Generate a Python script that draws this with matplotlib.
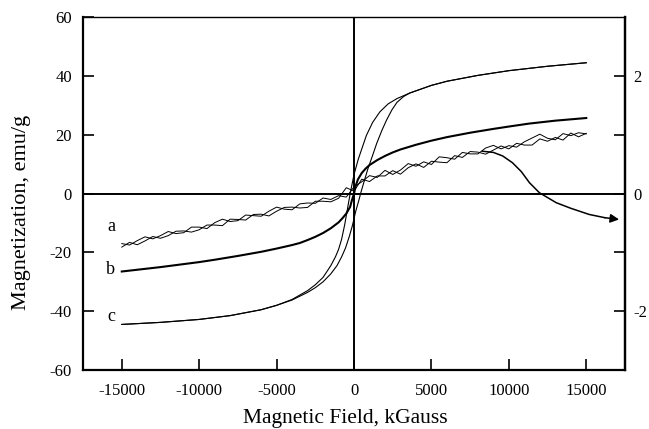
import numpy as np
import matplotlib
matplotlib.use('Agg')
import matplotlib.pyplot as plt

plt.rcParams['font.family'] = ['Liberation Serif', 'DejaVu Serif']

# ---- data (field in "kGauss" as labelled, magnetization in emu/g) ----
H_a = [-15000, -14500, -14000, -13500, -13000, -12500, -12000, -11500, -11000, -10500,
       -10000, -9500, -9000, -8500, -8000, -7500, -7000, -6500, -6000, -5500,
       -5000, -4500, -4000, -3500, -3000, -2500, -2000, -1500, -1000, -500,
       0, 500, 1000, 1500, 2000, 2500, 3000, 3500, 4000, 4500,
       5000, 5500, 6000, 6500, 7000, 7500, 8000, 8500, 9000, 9500,
       10000, 10500, 11000, 11500, 12000, 12500, 13000, 13500, 14000, 14500, 15000]
M_a1 = [-17.0, -17.5, -16.0, -14.7, -15.4, -14.3, -12.9, -13.6, -13.3, -11.4,
        -11.4, -11.9, -9.9, -8.7, -9.5, -9.2, -7.3, -7.5, -7.7, -6.0,
        -4.6, -5.3, -5.5, -3.5, -3.2, -3.3, -1.5, -2.0, -0.7, -1.2,
        2.3, 4.0, 6.1, 5.5, 7.9, 6.5, 8.0, 10.2, 9.3, 10.8,
        9.9, 12.5, 12.2, 11.7, 14.0, 13.5, 13.5, 15.5, 16.4, 15.2,
        16.3, 15.8, 17.6, 18.9, 20.2, 18.8, 18.3, 20.4, 19.7, 20.7, 20.3]
M_a2 = [-18.2, -16.6, -17.4, -16.1, -14.6, -15.2, -14.3, -12.8, -12.7, -13.1,
        -12.3, -10.7, -10.7, -10.9, -8.7, -8.8, -9.0, -7.1, -7.0, -7.6,
        -6.0, -4.7, -4.6, -4.9, -4.7, -2.6, -2.6, -2.8, -1.6, 2.0,
        0.8, 4.9, 4.1, 6.0, 6.0, 7.8, 6.6, 8.8, 10.1, 8.9,
        11.0, 10.7, 10.5, 12.9, 12.3, 14.3, 14.1, 13.4, 14.8, 16.2,
        15.2, 17.1, 16.5, 16.5, 18.6, 17.8, 19.1, 18.2, 20.6, 19.3, 20.5]

H_b = [-15000, -12500, -10000, -9000, -7500, -6000, -5000, -4000, -3500, -3000,
       -2500, -2000, -1500, -1000, -750, -500, -250, -150, 0, 100,
       250, 500, 750, 1000, 1500, 2000, 2500, 3000, 4000, 5000,
       6000, 7500, 9000, 10000, 11300, 13000, 15000]
M_b = [-26.5, -25.0, -23.3, -22.5, -21.2, -19.8, -18.7, -17.5, -16.8, -15.8,
       -14.7, -13.4, -11.8, -9.8, -8.4, -6.8, -4.5, -2.5, 0.0, 2.5,
       4.8, 7.0, 8.5, 9.7, 11.4, 12.8, 14.0, 15.0, 16.6, 18.0,
       19.2, 20.7, 22.0, 22.8, 23.8, 24.8, 25.7]

H_c_up = [-15000, -12500, -10000, -8000, -6000, -5000, -4000, -3000, -2500, -2000,
          -1500, -1200, -1000, -800, -600, -400, -250, 0, 270, 500,
          800, 1200, 1670, 2200, 2770, 3600, 5000, 6000, 8000, 10000,
          12500, 15000]
M_c_up = [-44.5, -43.8, -42.8, -41.5, -39.5, -38.0, -36.0, -33.0, -31.0, -28.5,
          -24.5, -21.5, -19.0, -15.5, -10.5, -4.5, 0.0, 6.5, 11.6, 15.2,
          19.8, 24.2, 27.8, 30.5, 32.3, 34.2, 36.8, 38.2, 40.2, 41.8,
          43.3, 44.5]
H_c_lo = [-15000, -12500, -10000, -8000, -6000, -5000, -4000, -3000, -2500, -2000,
          -1500, -1100, -800, -550, -300, -100, 100, 300, 450, 700,
          900, 1200, 1460, 1800, 2100, 2450, 2770, 3200, 3600, 5000,
          6000, 8000, 10000, 12500, 15000]
M_c_lo = [-44.5, -43.8, -42.8, -41.5, -39.5, -38.0, -36.2, -33.6, -32.0, -30.0,
          -27.3, -24.5, -21.5, -18.5, -14.5, -10.8, -6.2, -2.5, 0.5, 5.0,
          8.5, 13.0, 17.0, 21.5, 25.0, 28.5, 31.0, 33.0, 34.2, 36.8,
          38.2, 40.2, 41.8, 43.3, 44.5]

H_arrow = [8300, 9000, 9600, 10230, 10800, 11330, 11970, 13060, 14000, 15190, 16200, 17120]
M_arrow = [14.4, 14.0, 12.8, 10.5, 7.5, 3.7, 0.3, -3.1, -5.0, -7.1, -8.2, -8.8]

x_ticks = [-15000, -10000, -5000, 0, 5000, 10000, 15000]
y_ticks = [-60, -40, -20, 0, 20, 40, 60]
y2_major = [-2, 0, 2]
y2_minor = [-1, 1]

curve_labels = ['a', 'b', 'c']
label_pos_y = [-11.2, -25.9, -41.8]

# ---- figure ----
fig = plt.figure(figsize=(6.49, 4.29), dpi=100)
ax = fig.add_axes([0.128, 0.1375, 0.835, 0.8225])
ax.set_xlim(-17500, 17500)
ax.set_ylim(-60, 60)

ax.axhline(0, color='black', lw=1.4, zorder=1)
ax.axvline(0, color='black', lw=1.4, zorder=1)

ax.plot(H_a, M_a1, color='black', lw=0.7)
ax.plot(H_a, M_a2, color='black', lw=0.7)
ax.plot(H_b, M_b, color='black', lw=1.5)
ax.plot(H_c_up, M_c_up, color='black', lw=0.8)
ax.plot(H_c_lo, M_c_lo, color='black', lw=0.8)

ax.plot(H_arrow[:-1], M_arrow[:-1], color='black', lw=1.1)
ax.annotate('', xy=(H_arrow[-1], M_arrow[-1]), xytext=(H_arrow[-2], M_arrow[-2]),
            arrowprops=dict(arrowstyle='-|>', color='black', lw=1.1,
                            mutation_scale=13, shrinkA=0, shrinkB=0))

for lab, yy in zip(curve_labels, label_pos_y):
    ax.text(-15700, yy, lab, fontsize=13, ha='center', va='center')

ax.set_xticks(x_ticks)
ax.set_xticklabels([str(v) for v in x_ticks])
ax.set_yticks(y_ticks)
ax.set_yticklabels([str(v) for v in y_ticks])
ax.tick_params(axis='both', direction='in', length=8, width=1.2, labelsize=12)
ax.tick_params(axis='x', pad=9)
ax.tick_params(axis='y', pad=8)

for side in ['left', 'bottom', 'right']:
    ax.spines[side].set_linewidth(1.6)
ax.spines['top'].set_linewidth(1.0)

ax2 = ax.twinx()
ax2.set_ylim(-3, 3)
ax2.set_yticks(y2_major)
ax2.set_yticklabels([str(v) for v in y2_major])
ax2.set_yticks(y2_minor, minor=True)
ax2.tick_params(axis='y', which='both', direction='in', length=8, width=1.2,
                labelsize=12, pad=6)
ax2.spines['right'].set_linewidth(1.6)
ax2.spines['top'].set_visible(False)
ax2.spines['left'].set_visible(False)
ax2.spines['bottom'].set_visible(False)

fig.text(345 / 649, 1 - 418 / 429, 'Magnetic Field, kGauss', fontsize=15.5,
         ha='center', va='center')
fig.text(22 / 649, 1 - 212 / 429, 'Magnetization, emu/g', fontsize=16,
         ha='center', va='center', rotation=90)

fig.savefig('out.png', dpi=100)
